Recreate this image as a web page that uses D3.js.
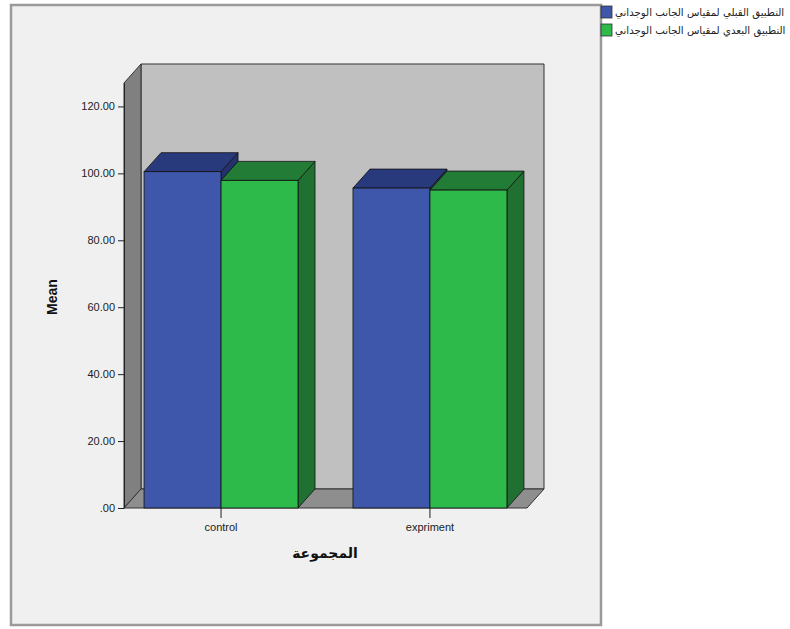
<!DOCTYPE html>
<html>
<head>
<meta charset="utf-8">
<script src="https://cdn.jsdelivr.net/npm/d3@7"></script>
<style>
  html, body { margin: 0; padding: 0; background: #ffffff; }
  svg { display: block; }
  .tick text { font-family: "Liberation Sans", Arial, sans-serif; font-size: 11px; fill: #222; }
</style>
</head>
<body>
<svg id="chart" width="790" height="629"></svg>
<script>
// Group means of the affective-scale scores, pre and post application
const categories = ["control", "expriment"];
const seriesNames = [
  "التطبيق القبلي لمقياس الجانب الوجداني",
  "التطبيق البعدي لمقياس الجانب الوجداني"
];
const preValues = [100.5, 95.6];
const postValues = [97.9, 95.0];
const yTicks = [0, 20, 40, 60, 80, 100, 120];

const frontColors = ["#3f57ab", "#2eb94b"];
const topColors = ["#28397c", "#227c36"];
const sideColors = ["#23316c", "#1f7031"];

const svg = d3.select("#chart");

// outer panel
svg.append("rect").attr("x", 11).attr("y", 5).attr("width", 590).attr("height", 620)
  .attr("fill", "#f0f0f0").attr("stroke", "#9a9a9a").attr("stroke-width", 2.5);

// plot geometry
const X0 = 124, X1 = 527, Y0 = 508, YTOP = 83;
const DX = 17, DY = 19;

const y = d3.scaleLinear().domain([0, 127]).range([Y0, YTOP]);
const x = d3.scaleBand().domain(categories).range([X0, X1])
  .paddingInner(0.263).paddingOuter(0.096);
const xs = d3.scaleBand().domain(d3.range(seriesNames.length)).range([0, x.bandwidth()]);

const line = d3.line();

// back wall
svg.append("path")
  .attr("d", line([[X0 + DX, YTOP - DY], [X1 + DX, YTOP - DY], [X1 + DX, Y0 - DY], [X0 + DX, Y0 - DY]]) + "Z")
  .attr("fill", "#c0c0c0").attr("stroke", "#333").attr("stroke-width", 1);
// left wall
svg.append("path")
  .attr("d", line([[X0, YTOP], [X0 + DX, YTOP - DY], [X0 + DX, Y0 - DY], [X0, Y0]]) + "Z")
  .attr("fill", "#808080").attr("stroke", "#333").attr("stroke-width", 1);
// floor
svg.append("path")
  .attr("d", line([[X0, Y0], [X0 + DX, Y0 - DY], [X1 + DX, Y0 - DY], [X1, Y0]]) + "Z")
  .attr("fill", "#8e8e8e").attr("stroke", "#333").attr("stroke-width", 1);

// bars, drawn left to right so each front face covers its neighbour's side
const rows = [];
categories.forEach((c, i) => {
  [preValues[i], postValues[i]].forEach((v, s) => rows.push({ c, s, v }));
});

const bars = svg.append("g").selectAll("g").data(rows).join("g");
bars.each(function (d) {
  const g = d3.select(this);
  const xl = x(d.c) + xs(d.s), xr = xl + xs.bandwidth();
  const yt = y(d.v);
  // side face
  g.append("path")
    .attr("d", line([[xr, yt], [xr + DX, yt - DY], [xr + DX, Y0 - DY], [xr, Y0]]) + "Z")
    .attr("fill", sideColors[d.s]).attr("stroke", "#111").attr("stroke-width", 0.8);
  // top face
  g.append("path")
    .attr("d", line([[xl, yt], [xl + DX, yt - DY], [xr + DX, yt - DY], [xr, yt]]) + "Z")
    .attr("fill", topColors[d.s]).attr("stroke", "#111").attr("stroke-width", 0.8);
  // front face
  g.append("rect")
    .attr("x", xl).attr("y", yt).attr("width", xr - xl).attr("height", Y0 - yt)
    .attr("fill", frontColors[d.s]).attr("stroke", "#111").attr("stroke-width", 0.8);
});

// y axis
const yAxis = svg.append("g").attr("transform", `translate(${X0},0)`)
  .call(d3.axisLeft(y).tickValues(yTicks)
    .tickFormat(d => d === 0 ? ".00" : d.toFixed(2))
    .tickSize(6).tickSizeOuter(0));
yAxis.select(".domain").attr("stroke", "#222");
yAxis.selectAll(".tick line").attr("stroke", "#222");

// x axis
const xAxis = svg.append("g").attr("transform", `translate(0,${Y0})`)
  .call(d3.axisBottom(x).tickSize(10).tickSizeOuter(0));
xAxis.select(".domain").remove();
xAxis.selectAll(".tick line").attr("stroke", "#222");
xAxis.selectAll(".tick text").attr("dy", "0.95em");

// axis titles
svg.append("text").attr("x", 325).attr("y", 558)
  .attr("text-anchor", "middle")
  .attr("font-family", "'DejaVu Sans', sans-serif").attr("font-weight", "bold").attr("font-size", 14)
  .attr("fill", "#111").text("المجموعة");
svg.append("text").attr("transform", "translate(57,297) rotate(-90)")
  .attr("text-anchor", "middle")
  .attr("font-family", "'Liberation Sans', Arial, sans-serif").attr("font-weight", "bold").attr("font-size", 14)
  .attr("fill", "#111").text("Mean");

// legend
const legend = svg.append("g").selectAll("g").data(seriesNames).join("g")
  .attr("transform", (d, i) => `translate(601,${6 + i * 18})`);
legend.append("rect").attr("width", 11).attr("height", 12)
  .attr("fill", (d, i) => frontColors[i]).attr("stroke", "#333").attr("stroke-width", 0.8);
legend.append("text").attr("x", 14).attr("y", 10)
  .attr("font-family", "'DejaVu Sans', sans-serif").attr("font-size", 10.2)
  .attr("fill", "#222").text(d => d);
</script>
</body>
</html>
